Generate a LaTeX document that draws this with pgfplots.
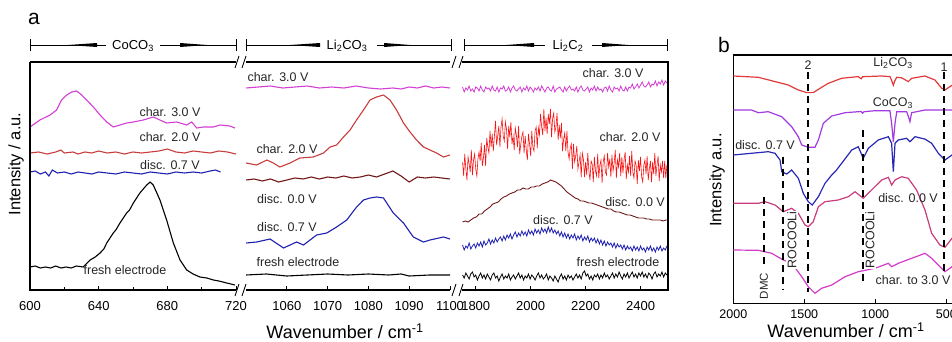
\documentclass[border=0pt]{standalone}
\usepackage{fontspec}
\setmainfont{Liberation Sans}
\usepackage{pgfplots}
\pgfplotsset{compat=1.18}
\definecolor{amag}{HTML}{D33FD3}
\definecolor{ared}{HTML}{C83C3C}
\definecolor{abright}{HTML}{F81414}
\definecolor{ablue}{HTML}{2020B0}
\definecolor{abrown}{HTML}{701818}
\definecolor{bred}{HTML}{E03A3A}
\definecolor{bviol}{HTML}{A23BE0}
\definecolor{bblue}{HTML}{2828B4}
\definecolor{bpink}{HTML}{C83C7C}
\definecolor{bmag}{HTML}{D23CC8}
\begin{document}
\begin{tikzpicture}[x=1pt,y=1pt]
\path[use as bounding box] (0,0) rectangle (952,341);
\pgfplotsset{panela/.style={scale only axis, anchor=south west, ymin=3, ymax=231,
  ytick=\empty, xtick pos=bottom, tick align=inside, axis line style={draw=none},
  major tick length=4pt, minor tick length=3pt, tick style={black, line width=0.9pt},
  ticklabel style={font=\fontsize{13}{13}\selectfont, yshift=-8pt},
  /pgf/number format/assume math mode=true, /pgf/number format/1000 sep={},
  every axis plot/.append style={line width=1.1pt}}}
% ---------------- axis 1: CoCO3
\begin{axis}[panela, at={(30pt,51pt)}, width=206pt, height=228pt,
  xmin=600, xmax=720, xtick={600,640,680,720}, minor xtick={620,660,700}]
\addplot[amag] coordinates {(600,166)(605.8,173)(611.7,178)(615.5,183)(618.4,193)(621.4,198)(624.3,201)(627.2,202)(630.1,198)(633,193)(636.9,186)(640.8,178)(644.7,171)(648.5,166)(652.4,168)(656.3,170)(660.2,171)(666,173)(671.8,176)(675.7,173)(679.6,170)(685.4,171)(691.3,168)(694.2,171)(697.1,165)(701,166)(706.8,166)(710.7,168)(716.5,167)(719.4,165)};
\addplot[ared] coordinates {(600,140)(605,141)(610,139)(615,141)(618,143)(620,140)(625,141)(628,139)(632,141)(636,140)(640,142)(645,140)(650,141)(655,139)(660,141)(665,140)(670,141)(675,142)(680,144)(685,141)(690,140)(695,142)(700,141)(705,140)(710,142)(715,141)(720,139)};
\addplot[ablue] coordinates {(600,121)(603,122)(606,119)(609,121)(611,117)(613,123)(616,120)(620,121)(624,119)(628,121)(632,120)(636,119)(640,121)(645,120)(650,119)(655,121)(660,120)(665,119)(670,121)(675,120)(680,119)(685,121)(690,120)(695,121)(700,120)(705,122)(708,123)(711,121)};
\addplot[black] coordinates {(600,26)(603,27)(606,25)(609,26)(612,25)(615,27)(618,25)(621,26)(624,25)(627,27)(631,26)(635,33)(638,36)(640.8,40)(643,44)(644.7,50)(648.5,60)(650,63)(652.4,70)(656.3,80)(658,83)(660.2,90)(664,100)(668,108)(670,111)(671.8,108)(675.7,93)(679.6,73)(683.5,50)(687.4,33)(691.3,23)(695,19)(699,16)(703,15)(706.8,13)(710,12)(714.6,10)(719.4,8)};
\end{axis}
% ---------------- axis 2: Li2CO3
\begin{axis}[panela, at={(246pt,51pt)}, width=204pt, height=228pt,
  xmin=1050, xmax=1100, xtick={1060,1070,1080,1090,1100}]
\addplot[amag] coordinates {(1050,205)(1053,206)(1056,207)(1059,205)(1062,206)(1065,207)(1068,205)(1071,206)(1074,205)(1077,207)(1080,205)(1083,204)(1086,205)(1088,204)(1090,206)(1092,205)(1094,207)(1096,205)(1098,206)(1100,205)};
\addplot[ared] coordinates {(1050,130)(1052.6,128)(1055.1,133)(1056.7,130)(1058.3,126)(1060.8,130)(1063.2,135)(1066.5,136)(1069,140)(1070.6,146)(1072.2,148)(1073.9,156)(1075.5,163)(1077.1,173)(1078.8,183)(1080.4,193)(1082,196)(1083.7,198)(1085.3,193)(1086.9,183)(1088.6,170)(1090.2,161)(1091.8,153)(1093.5,146)(1095.1,143)(1096.7,140)(1098.4,136)(1100,138)};
\addplot[abrown] coordinates {(1050,113)(1052,114)(1054,112)(1056,114)(1058,111)(1060,113)(1062,115)(1064,114)(1066,116)(1068,114)(1070,116)(1072,115)(1074,117)(1076,115)(1078,116)(1080,118)(1082,116)(1084,119)(1086,122)(1088,117)(1090,111)(1092,116)(1094,115)(1096,116)(1098,115)(1100,114)};
\addplot[ablue] coordinates {(1050,50)(1052.6,51)(1055.9,54)(1059.2,45)(1062.4,51)(1064.1,48)(1067.3,58)(1069.8,60)(1072.2,66)(1074.7,73)(1077.1,86)(1078.8,93)(1080.4,95)(1082,96)(1083.7,95)(1086.1,80)(1088.6,70)(1091,56)(1093.5,51)(1095.1,53)(1098.4,56)(1100,54)};
\addplot[black] coordinates {(1050,18)(1055,19)(1060,17)(1065,18)(1070,19)(1075,18)(1080,19)(1085,18)(1088,19)(1090,17)(1095,18)(1100,18)};
\end{axis}
% ---------------- axis 3: Li2C2
\begin{axis}[panela, at={(462pt,51pt)}, width=206pt, height=228pt,
  xmin=1750, xmax=2500, xtick={1800,2000,2200,2400}]
\addplot[amag, line width=0.8pt] coordinates {(1752,206)(1758,201)(1764,205)(1770,203)(1776,207)(1782,202)(1788,204)(1794,201)(1800,206)(1806,205)(1812,202)(1818,207)(1824,203)(1830,201)(1836,206)(1842,204)(1848,205)(1854,202)(1860,207)(1866,203)(1872,202)(1878,206)(1884,201)(1890,205)(1896,204)(1902,207)(1908,202)(1914,203)(1920,206)(1926,201)(1932,205)(1938,207)(1944,203)(1950,202)(1956,204)(1962,206)(1968,201)(1974,205)(1980,203)(1986,207)(1992,202)(1998,206)(2004,204)(2010,201)(2016,205)(2022,203)(2028,206)(2034,202)(2040,207)(2046,204)(2052,201)(2058,205)(2064,206)(2070,203)(2076,202)(2082,207)(2088,201)(2094,204)(2100,205)(2106,206)(2112,203)(2118,201)(2124,206)(2130,202)(2136,205)(2142,207)(2148,203)(2154,204)(2160,202)(2166,206)(2172,201)(2178,205)(2184,207)(2190,203)(2196,202)(2202,204)(2208,206)(2214,201)(2220,205)(2226,203)(2232,207)(2238,202)(2244,206)(2250,203)(2256,204)(2262,201)(2268,205)(2274,206)(2280,202)(2286,207)(2292,203)(2298,201)(2304,206)(2310,204)(2316,205)(2322,202)(2328,207)(2334,203)(2340,202)(2346,206)(2352,202)(2358,206)(2364,205)(2370,209)(2376,204)(2382,206)(2388,209)(2394,205)(2400,208)(2406,211)(2412,207)(2418,206)(2424,208)(2430,211)(2436,206)(2442,209)(2448,208)(2454,212)(2460,207)(2466,211)(2472,209)(2478,213)(2484,208)(2490,212)(2496,210)};
\addplot[abright, line width=0.6pt] coordinates {(1752,131)(1756,117)(1760,139)(1764,124)(1768,113)(1772,136)(1776,129)(1780,121)(1784,143)(1788,118)(1792,133)(1796,139)(1800,124)(1804,117)(1808,134)(1812,141)(1816,132)(1820,150)(1824,127)(1828,135)(1832,148)(1836,127)(1840,155)(1844,146)(1848,140)(1852,162)(1856,146)(1860,159)(1864,142)(1868,157)(1872,172)(1876,148)(1880,157)(1884,167)(1888,146)(1892,166)(1896,174)(1900,157)(1904,152)(1908,171)(1912,164)(1916,144)(1920,167)(1924,156)(1928,171)(1932,149)(1936,157)(1940,143)(1944,165)(1948,158)(1952,146)(1956,167)(1960,139)(1964,149)(1968,157)(1972,161)(1976,140)(1980,157)(1984,143)(1988,133)(1992,159)(1996,149)(2000,137)(2004,162)(2008,146)(2012,142)(2016,162)(2020,166)(2024,145)(2028,165)(2032,158)(2036,179)(2040,166)(2044,158)(2048,184)(2052,162)(2056,175)(2060,159)(2064,179)(2068,169)(2072,184)(2076,156)(2080,175)(2084,180)(2088,161)(2092,166)(2096,180)(2100,153)(2104,168)(2108,155)(2112,170)(2116,142)(2120,154)(2124,160)(2128,142)(2132,162)(2136,141)(2140,134)(2144,145)(2148,149)(2152,124)(2156,149)(2160,131)(2164,137)(2168,147)(2172,124)(2176,131)(2180,138)(2184,116)(2188,140)(2192,134)(2196,116)(2200,131)(2204,118)(2208,140)(2212,122)(2216,113)(2220,132)(2224,129)(2228,111)(2232,136)(2236,122)(2240,117)(2244,139)(2248,115)(2252,128)(2256,133)(2260,110)(2264,131)(2268,137)(2272,121)(2276,118)(2280,140)(2284,126)(2288,134)(2292,116)(2296,138)(2300,122)(2304,130)(2308,143)(2312,115)(2316,133)(2320,126)(2324,140)(2328,117)(2332,136)(2336,120)(2340,133)(2344,141)(2348,114)(2352,128)(2356,121)(2360,137)(2364,117)(2368,142)(2372,121)(2376,115)(2380,132)(2384,128)(2388,109)(2392,133)(2396,122)(2400,136)(2404,116)(2408,111)(2412,128)(2416,133)(2420,119)(2424,137)(2428,113)(2432,124)(2436,132)(2440,111)(2444,131)(2448,119)(2452,140)(2456,117)(2460,128)(2464,137)(2468,112)(2472,128)(2476,121)(2480,132)(2484,115)(2488,132)(2492,115)(2496,128)(2500,116)};
\addplot[abrown, line width=0.9pt] coordinates {(1752,71)(1762,72)(1772,71)(1782,73)(1792,75)(1802,76)(1812,79)(1822,79)(1832,82)(1842,84)(1852,86)(1862,89)(1872,90)(1882,91)(1892,94)(1902,96)(1912,97)(1922,99)(1932,100)(1942,101)(1952,103)(1962,103)(1972,105)(1982,104)(1992,104)(2002,106)(2012,106)(2022,107)(2032,107)(2042,109)(2052,110)(2062,111)(2072,113)(2082,112)(2092,111)(2102,109)(2112,107)(2122,104)(2132,101)(2142,99)(2152,97)(2162,95)(2172,94)(2182,92)(2192,92)(2202,91)(2212,90)(2222,90)(2232,89)(2242,88)(2252,87)(2262,86)(2272,85)(2282,84)(2292,84)(2302,82)(2312,81)(2322,81)(2332,80)(2342,79)(2352,78)(2362,78)(2372,77)(2382,76)(2392,75)(2402,75)(2412,75)(2422,74)(2432,74)(2442,73)(2452,73)(2462,73)(2472,73)(2482,72)(2492,73)(2500,73)};
\addplot[ablue, line width=0.8pt] coordinates {(1752,48)(1758,43)(1764,47)(1770,45)(1776,50)(1782,44)(1788,47)(1794,49)(1800,45)(1806,50)(1812,47)(1818,51)(1824,46)(1830,52)(1836,48)(1842,50)(1848,54)(1854,49)(1860,53)(1866,50)(1872,55)(1878,51)(1884,54)(1890,56)(1896,52)(1902,57)(1908,53)(1914,58)(1920,55)(1926,59)(1932,54)(1938,58)(1944,61)(1950,56)(1956,60)(1962,57)(1968,62)(1974,58)(1980,61)(1986,57)(1992,63)(1998,59)(2004,62)(2010,58)(2016,64)(2022,60)(2028,63)(2034,59)(2040,65)(2046,61)(2052,64)(2058,60)(2064,66)(2070,61)(2076,65)(2082,60)(2088,63)(2094,59)(2100,62)(2106,57)(2112,61)(2118,56)(2124,60)(2130,55)(2136,59)(2142,54)(2148,58)(2154,55)(2160,59)(2166,53)(2172,57)(2178,54)(2184,58)(2190,52)(2196,56)(2202,53)(2208,57)(2214,51)(2220,55)(2226,52)(2232,55)(2238,50)(2244,54)(2250,49)(2256,53)(2262,48)(2268,52)(2274,47)(2280,51)(2286,48)(2292,50)(2298,46)(2304,50)(2310,45)(2316,49)(2322,46)(2328,48)(2334,44)(2340,48)(2346,43)(2352,47)(2358,44)(2364,46)(2370,42)(2376,47)(2382,43)(2388,46)(2394,42)(2400,47)(2406,43)(2412,45)(2418,41)(2424,46)(2430,43)(2436,47)(2442,42)(2448,45)(2454,41)(2460,46)(2466,43)(2472,47)(2478,42)(2484,45)(2490,43)(2496,47)};
\addplot[black, line width=0.8pt] coordinates {(1752,18)(1758,15)(1764,20)(1770,17)(1776,14)(1782,19)(1788,21)(1794,16)(1800,18)(1806,13)(1812,17)(1818,20)(1824,15)(1830,18)(1836,14)(1842,19)(1848,16)(1854,13)(1860,18)(1866,20)(1872,15)(1878,17)(1884,12)(1890,16)(1896,19)(1902,14)(1908,17)(1914,15)(1920,19)(1926,13)(1932,16)(1938,18)(1944,14)(1950,17)(1956,20)(1962,15)(1968,18)(1974,13)(1980,17)(1986,15)(1992,19)(1998,14)(2004,18)(2010,16)(2016,13)(2022,17)(2028,20)(2034,15)(2040,18)(2046,14)(2052,16)(2058,19)(2064,13)(2070,17)(2076,15)(2082,12)(2088,17)(2094,14)(2100,11)(2106,16)(2112,19)(2118,14)(2124,17)(2130,13)(2136,18)(2142,15)(2148,17)(2154,13)(2160,16)(2166,19)(2172,15)(2178,18)(2184,14)(2190,20)(2196,22)(2202,17)(2208,19)(2214,14)(2220,17)(2226,13)(2232,18)(2238,16)(2244,19)(2250,14)(2256,18)(2262,15)(2268,20)(2274,16)(2280,18)(2286,14)(2292,17)(2298,20)(2304,15)(2310,19)(2316,16)(2322,21)(2328,17)(2334,14)(2340,19)(2346,16)(2352,20)(2358,15)(2364,18)(2370,21)(2376,16)(2382,19)(2388,15)(2394,20)(2400,17)(2406,21)(2412,16)(2418,19)(2424,15)(2430,20)(2436,18)(2442,14)(2448,19)(2454,21)(2460,16)(2466,19)(2472,17)(2478,21)(2484,16)(2490,20)(2496,18)};
\end{axis}
% ---------------- frames panel a
\begin{scope}[line width=1.1pt]
\draw (30,279) -- (30,51) -- (236,51);
\draw (30,279) -- (236,279);
\draw (246,279) -- (450,279);
\draw (246,51) -- (450,51);
\draw (462,279) -- (668,279) -- (668,51) -- (462,51);
\end{scope}
\begin{scope}[line width=0.9pt]
\foreach \yy in {51,279}{
 \draw (235,\yy-6) -- (239,\yy+6);
 \draw (242,\yy-6) -- (246,\yy+6);
 \draw (452,\yy-6) -- (456,\yy+6);
 \draw (459,\yy-6) -- (463,\yy+6);
}
% brackets
\draw (30,290) -- (30,302); \draw (236,290) -- (236,302);
\draw (30,296) -- (106,296); \draw (160,296) -- (236,296);
\fill (68,296) -- (97,298) -- (97,294) -- cycle;
\fill (207,296) -- (180,298) -- (180,294) -- cycle;
\draw (246,290) -- (246,302); \draw (451,290) -- (451,302);
\draw (246,296) -- (318,296); \draw (377,296) -- (451,296);
\fill (290,296) -- (320,298) -- (320,294) -- cycle;
\fill (410,296) -- (384,298) -- (384,294) -- cycle;
\draw (464,290) -- (464,302); \draw (667,290) -- (667,302);
\draw (464,296) -- (545,296); \draw (592,296) -- (667,296);
\fill (506,296) -- (534,298) -- (534,294) -- cycle;
\fill (628,296) -- (602,298) -- (602,294) -- cycle;
\end{scope}
\begin{scope}[font=\fontsize{13}{13}\selectfont]
\node at (133,295) {CoCO\textsubscript{3}};
\node at (347,295) {Li\textsubscript{2}CO\textsubscript{3}};
\node at (568,295) {Li\textsubscript{2}C\textsubscript{2}};
\end{scope}
\begin{scope}[font=\fontsize{12.5}{13}\selectfont, color=black!85]
\node at (170,229) {char. 3.0 V};
\node at (170,204) {char. 2.0 V};
\node at (170,176) {disc. 0.7 V};
\node at (125,71) {fresh electrode};
\node at (278,264) {char. 3.0 V};
\node at (287,192) {char. 2.0 V};
\node at (287,142) {disc. 0.0 V};
\node at (287,114) {disc. 0.7 V};
\node at (298,79) {fresh electrode};
\node at (613,268) {char. 3.0 V};
\node at (630,204) {char. 2.0 V};
\node at (635,139) {disc. 0.0 V};
\node at (563,121) {disc. 0.7 V};
\node at (618,79) {fresh electrode};
\end{scope}
\node[font=\fontsize{21}{21}\selectfont] at (34,322) {a};
\node[font=\fontsize{16.5}{17}\selectfont, rotate=90] at (16,177) {Intensity / a.u.};
\node[font=\fontsize{18}{18}\selectfont] at (345,10) {Wavenumber / cm\textsuperscript{-1}};
% ---------------- panel b
\begin{axis}[scale only axis, anchor=south west, at={(733.3pt,37.7pt)}, width=221.5pt, height=248.3pt,
  x dir=reverse, xmin=440, xmax=2000, ymin=0, ymax=248.3, ytick=\empty,
  xtick={2000,1500,1000,500}, xtick pos=bottom, tick align=inside,
  major tick length=4pt, tick style={black, line width=1pt},
  axis line style={line width=1.6pt},
  ticklabel style={font=\fontsize{12.5}{13}\selectfont, yshift=-3pt},
  /pgf/number format/assume math mode=true, /pgf/number format/1000 sep={},
  every axis plot/.append style={line width=1.2pt}]
\addplot[bred] coordinates {(2000,227.3)(1824,226)(1706,221.7)(1613,218.3)(1542,213.3)(1483,210.7)(1437,210.7)(1389,215)(1331,220)(1237,225)(1120,226.7)(1100,224.5)(1090,226.5)(1073,226.7)(955,227.3)(897,226.7)(885,223)(873,218)(861,223)(849,226)(814,225.5)(768,221.7)(744,225)(650,227.3)(580,223.3)(532,215)(509,213.3)(474,216.7)(440,220)};
\addplot[bviol] coordinates {(2000,193.3)(1871,193.3)(1824,190.6)(1754,191.6)(1659,186.6)(1589,176.6)(1542,166.6)(1518,158.3)(1472,156)(1425,156)(1401,163.3)(1366,180)(1307,187.3)(1213,190.6)(1100,191.8)(1090,190)(1080,191.6)(1002,192.6)(897,192.6)(885,180)(873,161.6)(861,180)(849,191.6)(779,191.6)(765,186)(756,181.6)(744,190.6)(650,193.3)(440,193.3)};
\addplot[bblue] coordinates {(2000,148.3)(1754,151.6)(1706,150)(1671,143.3)(1659,131.6)(1624,129.3)(1589,133.3)(1542,125)(1507,110)(1472,101.6)(1444,98.3)(1401,106.6)(1354,120)(1307,128.3)(1280,132)(1237,140)(1166,153.3)(1120,156.6)(1085,145)(1049,155)(979,163.3)(908,166.6)(885,160)(873,131.6)(861,160)(838,163.3)(779,165)(756,161.6)(720,166.6)(650,164.2)(603,160)(556,150)(509,143.3)(460,148.3)(440,150)};
\addplot[bpink] coordinates {(2000,100)(1824,100)(1777,101.6)(1706,98.3)(1648,91.6)(1589,95)(1542,90)(1495,78.3)(1472,76.6)(1437,81.6)(1401,96.6)(1354,101.6)(1261,103.3)(1190,106.6)(1143,111.6)(1085,105)(1026,113.3)(955,123.3)(908,126)(885,118.3)(861,123.3)(814,126.6)(768,125)(709,113.3)(650,93.3)(603,70)(545,58.3)(509,56)(460,65)(440,68)};
\addplot[bmag] coordinates {(2000,53.3)(1824,53)(1730,50)(1648,43.3)(1589,40)(1518,26.6)(1472,16.6)(1425,10)(1378,15)(1307,18.3)(1213,26.6)(1120,31.6)(1002,35)(908,40)(885,36.6)(838,40)(744,45)(650,50)(603,45)(545,36.6)(509,31.6)(460,36.6)(440,38)};
\addplot[black, line width=2pt, dash pattern=on 7pt off 5pt] coordinates {(1472,231)(1472,11.6)};
\addplot[black, line width=2pt, dash pattern=on 7pt off 5pt] coordinates {(514,231)(514,31.6)};
\addplot[black, line width=2pt, dash pattern=on 7pt off 5pt] coordinates {(1085,173)(1085,18)};
\addplot[black, line width=2pt, dash pattern=on 7pt off 5pt] coordinates {(1648,146.6)(1648,13)};
\addplot[black, line width=2pt, dash pattern=on 7pt off 5pt] coordinates {(1782,106.6)(1782,38)};
\end{axis}
\begin{scope}[font=\fontsize{12.5}{13}\selectfont, color=black!85]
\node at (893,278) {Li\textsubscript{2}CO\textsubscript{3}};
\node at (893,238) {CoCO\textsubscript{3}};
\node at (765,196) {disc. 0.7 V};
\node at (908,143) {disc. 0.0 V};
\node at (913,61) {char. to 3.0 V};
\node at (808,276) {2};
\node at (944,274) {1};
\node[rotate=90, fill=white, inner sep=1pt] at (792,101) {ROCOOLi};
\node[rotate=90, fill=white, inner sep=1pt] at (870,101) {ROCOOLi};
\node[rotate=90, font=\fontsize{11.5}{12}\selectfont] at (764,55) {DMC};
\end{scope}
\node[font=\fontsize{21}{21}\selectfont] at (724,296) {b};
\node[font=\fontsize{16.5}{17}\selectfont, rotate=90] at (717,161) {Intensity a.u.};
\node[font=\fontsize{18}{18}\selectfont] at (846,11) {Wavenumber / cm\textsuperscript{-1}};
\end{tikzpicture}
\end{document}
